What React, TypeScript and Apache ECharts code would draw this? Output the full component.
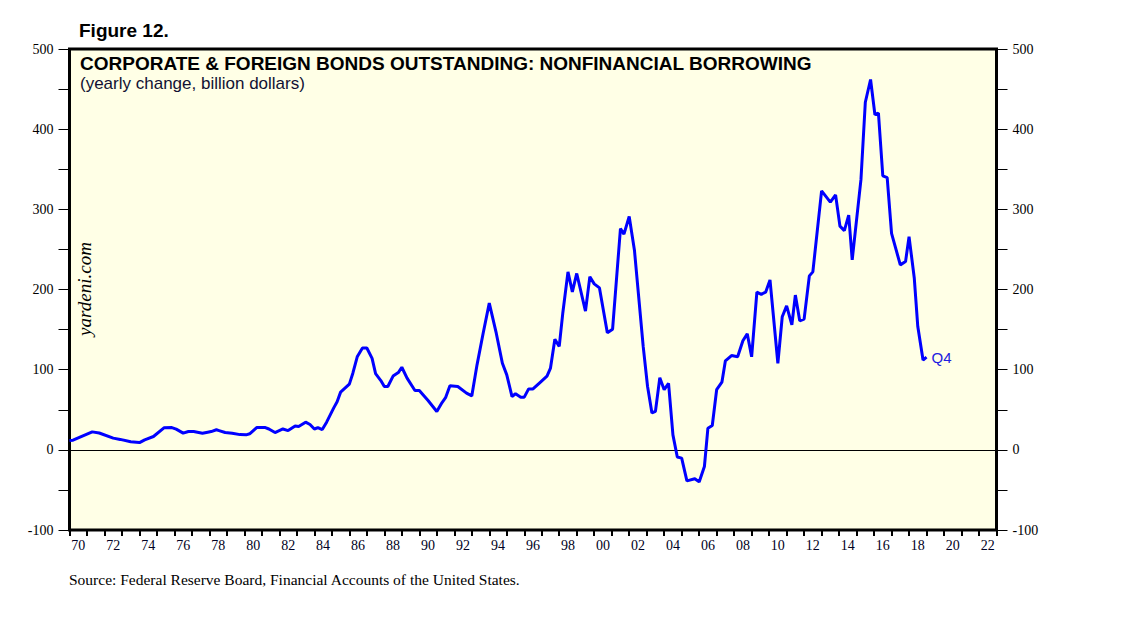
import React, { useEffect, useRef } from 'react';
import * as echarts from 'echarts';

const yearCategories = [
  '70', '71', '72', '73', '74', '75', '76', '77', '78', '79',
  '80', '81', '82', '83', '84', '85', '86', '87', '88', '89',
  '90', '91', '92', '93', '94', '95', '96', '97', '98', '99',
  '00', '01', '02', '03', '04', '05', '06', '07', '08', '09',
  '10', '11', '12', '13', '14', '15', '16', '17', '18', '19',
  '20', '21', '22',
];

const dateX = [
  1970.0, 1970.2, 1971.3, 1971.7, 1972.5, 1972.9, 1973.5, 1974.0, 1974.3, 1974.8,
  1975.4, 1975.85, 1976.1, 1976.5, 1976.8, 1977.1, 1977.6, 1977.9, 1978.1, 1978.4,
  1978.55, 1978.9, 1979.3, 1979.75, 1980.1, 1980.3, 1980.7, 1981.2, 1981.4, 1981.75,
  1982.2, 1982.5, 1982.9, 1983.1, 1983.5, 1983.75, 1984.0, 1984.2, 1984.45, 1984.7,
  1985.1, 1985.3, 1985.5, 1986.0, 1986.2, 1986.45, 1986.75, 1987.0, 1987.3, 1987.5,
  1987.8, 1988.0, 1988.2, 1988.5, 1988.8, 1989.0, 1989.3, 1989.75, 1990.0, 1990.3,
  1990.5, 1991.0, 1991.3, 1991.5, 1991.75, 1992.2, 1992.7, 1993.0, 1993.3, 1993.65,
  1994.0, 1994.4, 1994.75, 1995.0, 1995.3, 1995.5, 1995.8, 1996.0, 1996.25, 1996.5,
  1996.85, 1997.3, 1997.5, 1997.75, 1998.0, 1998.2, 1998.5, 1998.75, 1999.0, 1999.5,
  1999.75, 2000.0, 2000.3, 2000.75, 2001.05, 2001.5, 2001.7, 2002.0, 2002.3, 2002.8,
  2003.05, 2003.3, 2003.5, 2003.75, 2004.0, 2004.25, 2004.5, 2004.75, 2005.0, 2005.3,
  2005.75, 2006.0, 2006.3, 2006.5, 2006.75, 2007.0, 2007.3, 2007.5, 2007.85, 2008.2,
  2008.5, 2008.75, 2009.0, 2009.3, 2009.55, 2009.8, 2010.05, 2010.5, 2010.75, 2011.0,
  2011.3, 2011.5, 2011.75, 2012.0, 2012.3, 2012.5, 2013.0, 2013.5, 2013.8, 2014.05,
  2014.3, 2014.55, 2014.75, 2015.25, 2015.5, 2015.8, 2016.05, 2016.25, 2016.5, 2016.75,
  2017.0, 2017.5, 2017.8, 2018.0, 2018.3, 2018.5, 2018.8, 2019.0,
];

const borrowing = [
  11.6, 12, 22.4, 21, 14.6, 13, 10, 9, 12.5, 16.6,
  27.4, 27.8, 25.8, 20.8, 22.8, 22.8, 20.8, 22, 22.8, 25,
  24, 21.6, 20.8, 19, 18.7, 20, 27.8, 27.8, 26, 21.6,
  26, 24, 29.6, 29, 34.5, 31.6, 26, 27.8, 25.3, 34.5,
  52, 60, 72, 82, 95.6, 116, 127, 127, 114, 95,
  86.4, 79, 79, 92, 96.4, 103, 89.4, 74, 74, 66.5,
  61.5, 47.8, 59, 65, 80, 79, 70.7, 67.3, 106, 145.5,
  183, 145.5, 108, 93.5, 66.5, 70, 65.7, 65.7, 76, 76,
  83, 92, 102, 138, 129, 170, 222, 197, 220, 173,
  216, 207, 202, 146, 150.5, 276, 269, 291, 249, 129,
  79, 46, 48, 90, 75, 83, 18.7, -9, -10.4, -38.7,
  -36, -40, -20.8, 27, 30.3, 75, 84.4, 111, 117.6, 116,
  136, 144.7, 116, 196.6, 194, 196.6, 212, 108, 166, 179.6,
  156, 193, 161, 163, 217, 222, 323, 309, 318, 279,
  273.5, 292.7, 237, 337, 433.6, 462, 418, 420, 341.7, 339.6,
  270, 230.7, 234.8, 266, 214, 153.8, 112, 115.6,
];

const yMin = -100;
const yMax = 500;
const yStep = 50;

export default function App() {
  const ref = useRef<HTMLDivElement>(null);

  useEffect(() => {
    if (!ref.current) return;
    const chart = echarts.init(ref.current, undefined, { renderer: 'svg' });

    const seriesData = dateX.map((x, i) => [x, borrowing[i]]);

    const yAxisCommon = (position: 'left' | 'right') => ({
      type: 'value' as const,
      min: yMin,
      max: yMax,
      interval: yStep,
      position,
      axisLine: { show: false, onZero: false },
      axisTick: { show: true, length: 11, lineStyle: { color: '#000', width: 1 } },
      axisLabel: {
        formatter: (v: number) => (v % 100 === 0 ? String(v) : ''),
        margin: 16,
        fontFamily: 'Liberation Serif',
        fontSize: 14,
        color: '#000',
      },
      splitLine: { show: false },
    });

    chart.setOption({
      animation: false,
      grid: {
        left: 69.5,
        right: 141.5,
        top: 49,
        bottom: 91,
        show: true,
        backgroundColor: '#FFFFE6',
        borderColor: '#000',
        borderWidth: 3,
      },
      xAxis: [
        { type: 'value', min: 1970, max: 2023, show: false, position: 'top' },
        {
          type: 'category',
          data: yearCategories,
          boundaryGap: true,
          position: 'bottom',
          axisLine: { show: false, onZero: false },
          axisTick: { show: true, interval: 0, length: 6, lineStyle: { color: '#000', width: 2 } },
          axisLabel: {
            interval: 1,
            margin: 8,
            fontFamily: 'Liberation Serif',
            fontSize: 14,
            color: '#000022',
          },
          splitLine: { show: false },
        },
      ],
      yAxis: [yAxisCommon('left'), yAxisCommon('right')],
      graphic: [
        {
          type: 'text',
          x: 79,
          y: 30,
          style: {
            text: 'Figure 12.',
            font: 'bold 19px "Liberation Sans", Arial, sans-serif',
            fill: '#000',
            textVerticalAlign: 'middle',
          },
        },
        {
          type: 'text',
          x: 80,
          y: 63,
          z: 10,
          style: {
            text: 'CORPORATE & FOREIGN BONDS OUTSTANDING: NONFINANCIAL BORROWING',
            font: 'bold 19px "Liberation Sans", Arial, sans-serif',
            fill: '#000',
            textVerticalAlign: 'middle',
          },
        },
        {
          type: 'text',
          x: 80,
          y: 83,
          z: 10,
          style: {
            text: '(yearly change, billion dollars)',
            font: '17px "Liberation Sans", Arial, sans-serif',
            fill: '#111133',
            textVerticalAlign: 'middle',
          },
        },
        {
          type: 'text',
          x: 84,
          y: 289,
          rotation: Math.PI / 2,
          z: 10,
          style: {
            text: 'yardeni.com',
            font: 'italic 19px "Liberation Serif", "Times New Roman", serif',
            fill: '#000',
            textAlign: 'center',
            textVerticalAlign: 'middle',
          },
        },
        {
          type: 'text',
          x: 69,
          y: 579,
          style: {
            text: 'Source: Federal Reserve Board, Financial Accounts of the United States.',
            font: '15.5px "Liberation Serif", "Times New Roman", serif',
            fill: '#000',
            textVerticalAlign: 'middle',
          },
        },
      ],
      series: [
        {
          type: 'line',
          xAxisIndex: 0,
          yAxisIndex: 0,
          data: seriesData,
          showSymbol: false,
          symbol: 'none',
          lineStyle: { color: '#0000FF', width: 3 },
          itemStyle: { color: '#0000FF' },
          z: 5,
          endLabel: {
            show: true,
            formatter: 'Q4',
            color: '#2020E0',
            fontFamily: 'Liberation Sans',
            fontSize: 15,
            distance: 5,
          },
          markLine: {
            silent: true,
            symbol: ['none', 'none'],
            label: { show: false },
            lineStyle: { color: '#000', width: 1, type: 'solid' },
            data: [{ yAxis: 0 }],
            z: 3,
          },
        },
      ],
    });

    return () => chart.dispose();
  }, []);

  return (
    <div
      ref={ref}
      style={{ position: 'fixed', left: 0, top: 0, width: 1138, height: 621, background: '#fff' }}
    />
  );
}
